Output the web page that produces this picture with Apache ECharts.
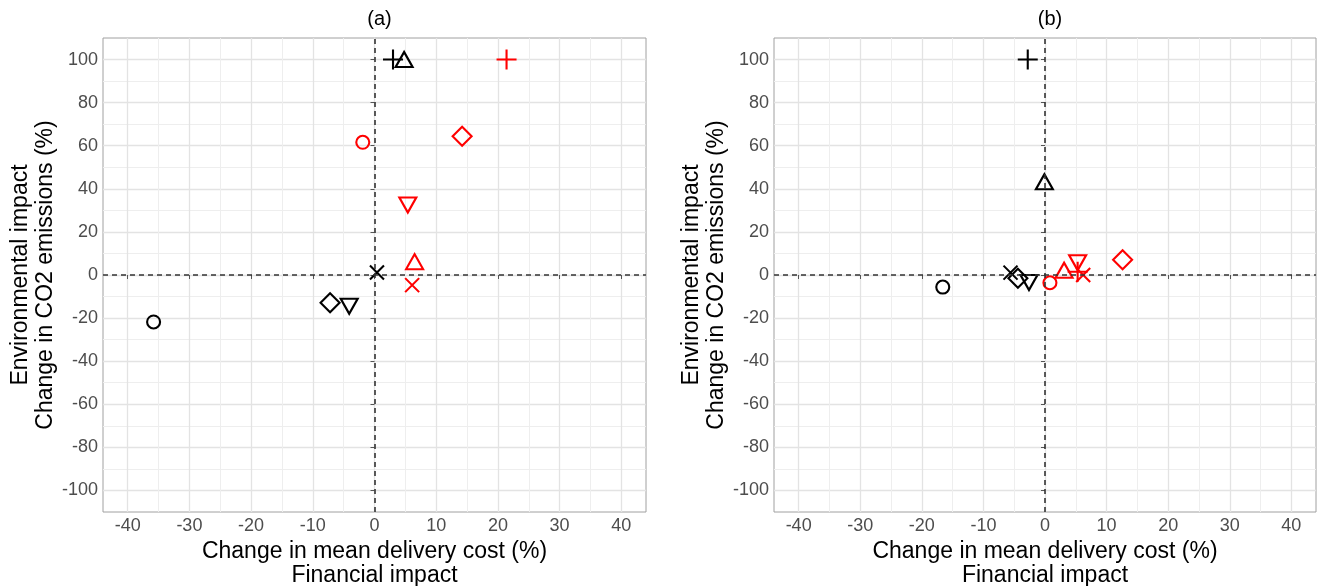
<!DOCTYPE html>
<html>
<head>
<meta charset="utf-8">
<script src="https://cdn.jsdelivr.net/npm/echarts@6/dist/echarts.min.js"></script>
<style>
html,body{margin:0;padding:0;background:#fff;}
#chart{width:1323px;height:586px;}
</style>
</head>
<body>
<div id="chart"></div>
<script>
// Marker order: circle, triangle, plus, cross, diamond, inverted triangle
const shapeNames = ['circle', 'triangle', 'plus', 'cross', 'diamond', 'invTriangle'];

// Panel (a)
const aBlackX = [-35.8, 4.8, 3.0, 0.4, -7.2, -4.1];
const aBlackY = [-21.8, 100, 100, 1.2, -12.9, -14.5];
const aRedX = [-1.9, 6.5, 21.4, 6.1, 14.2, 5.4];
const aRedY = [61.6, 6.2, 100, -4.7, 64.4, 32.5];

// Panel (b)
const bBlackX = [-16.6, -0.1, -2.8, -5.6, -4.4, -2.6];
const bBlackY = [-5.6, 43.3, 100, 1.1, -1.5, -3.5];
const bRedX = [0.8, 3.1, 5.3, 6.2, 12.6, 5.3];
const bRedY = [-3.6, 2.2, 1.5, 0.0, 7.1, 5.7];

const panelTitles = ['(a)', '(b)'];
const xMajorTicks = [-40, -30, -20, -10, 0, 10, 20, 30, 40];
const xMinorTicks = [-35, -25, -15, -5, 5, 15, 25, 35];
const yMajorTicks = [-100, -80, -60, -40, -20, 0, 20, 40, 60, 80, 100];
const yMinorTicks = [-90, -70, -50, -30, -10, 10, 30, 50, 70, 90];
const xTitle = 'Change in mean delivery cost (%)\nFinancial impact';
const yTitle = 'Environmental impact\nChange in CO2 emissions (%)';

const FONT = 'Liberation Sans, Arial, sans-serif';
const symbolDefs = {
  circle: {symbol: 'circle', size: 13},
  triangle: {symbol: 'path://M5,0L10,8.66L0,8.66Z', size: [17, 15]},
  plus: {symbol: 'path://M0,5L10,5M5,0L5,10', size: 20},
  cross: {symbol: 'path://M0,0L10,10M10,0L0,10', size: 14},
  diamond: {symbol: 'path://M5,0L10,5L5,10L0,5Z', size: 19},
  invTriangle: {symbol: 'path://M0,0L10,0L5,8.66Z', size: [17, 15]}
};

const grids = [
  {left: 103, right: 677, top: 38, bottom: 74},
  {left: 774, right: 7, top: 38, bottom: 74}
];

const xAxes = [], yAxes = [], series = [], titles = [];
grids.forEach(function (g, i) {
  xAxes.push({
    type: 'value', gridIndex: i, min: -44, max: 44, position: 'bottom',
    name: xTitle, nameLocation: 'middle', nameGap: 19,
    nameTextStyle: {fontFamily: FONT, fontSize: 23, color: '#000', lineHeight: 24},
    axisLine: {show: false},
    axisTick: {show: true, customValues: xMajorTicks, length: 4, lineStyle: {color: '#555', width: 1}},
    axisLabel: {customValues: xMajorTicks, fontFamily: FONT, fontSize: 18, color: '#4d4d4d', margin: 5},
    splitLine: {show: true, lineStyle: {color: '#e3e3e3', width: 1.3}}
  });
  xAxes.push({
    type: 'value', gridIndex: i, min: -44, max: 44, position: 'top',
    axisLine: {show: false},
    axisTick: {show: false, customValues: xMinorTicks},
    axisLabel: {show: false, customValues: xMinorTicks},
    splitLine: {show: true, lineStyle: {color: '#eeeeee', width: 1}}
  });
  yAxes.push({
    type: 'value', gridIndex: i, min: -110, max: 110, position: 'left',
    name: yTitle, nameLocation: 'middle', nameGap: 44, nameRotate: 90,
    nameTextStyle: {fontFamily: FONT, fontSize: 23, color: '#000', lineHeight: 25},
    axisLine: {show: false},
    axisTick: {show: true, customValues: yMajorTicks, length: 4, lineStyle: {color: '#555', width: 1}},
    axisLabel: {customValues: yMajorTicks, fontFamily: FONT, fontSize: 18, color: '#4d4d4d', margin: 5},
    splitLine: {show: true, lineStyle: {color: '#e3e3e3', width: 1.3}}
  });
  yAxes.push({
    type: 'value', gridIndex: i, min: -110, max: 110, position: 'right',
    axisLine: {show: false},
    axisTick: {show: false, customValues: yMinorTicks},
    axisLabel: {show: false, customValues: yMinorTicks},
    splitLine: {show: true, lineStyle: {color: '#eeeeee', width: 1}}
  });
  titles.push({
    text: panelTitles[i],
    left: g.left + (1323 - g.left - g.right) / 2,
    textAlign: 'center',
    top: 4,
    textStyle: {fontFamily: FONT, fontSize: 20, fontWeight: 'normal', color: '#000'}
  });
});

function makeData(xs, ys) {
  return xs.map(function (x, k) {
    const d = symbolDefs[shapeNames[k]];
    return {value: [x, ys[k]], symbol: d.symbol, symbolSize: d.size};
  });
}

const panels = [
  {black: makeData(aBlackX, aBlackY), red: makeData(aRedX, aRedY)},
  {black: makeData(bBlackX, bBlackY), red: makeData(bRedX, bRedY)}
];

panels.forEach(function (p, i) {
  // zero reference lines
  series.push({
    type: 'scatter', xAxisIndex: 2 * i, yAxisIndex: 2 * i, data: [], silent: true,
    markLine: {
      silent: true, symbol: 'none', animation: false,
      label: {show: false},
      lineStyle: {type: [5, 4], color: '#333', width: 1.6},
      data: [{xAxis: 0}, {yAxis: 0}]
    }
  });
  [['black', '#000000'], ['red', '#ff0000']].forEach(function (c) {
    series.push({
      type: 'scatter', xAxisIndex: 2 * i, yAxisIndex: 2 * i, silent: true,
      itemStyle: {color: 'rgba(0,0,0,0)', borderColor: c[1], borderWidth: 2.1, opacity: 1},
      data: p[c[0]]
    });
  });
});

const chart = echarts.init(document.getElementById('chart'));
chart.setOption({
  animation: false,
  backgroundColor: '#ffffff',
  title: titles,
  grid: grids.map(function (g) {
    return Object.assign({show: true, borderColor: '#a0a0a0', borderWidth: 1, backgroundColor: 'transparent',
      containLabel: false, outerBoundsMode: 'none'}, g);
  }),
  xAxis: xAxes,
  yAxis: yAxes,
  series: series
});
</script>
</body>
</html>
